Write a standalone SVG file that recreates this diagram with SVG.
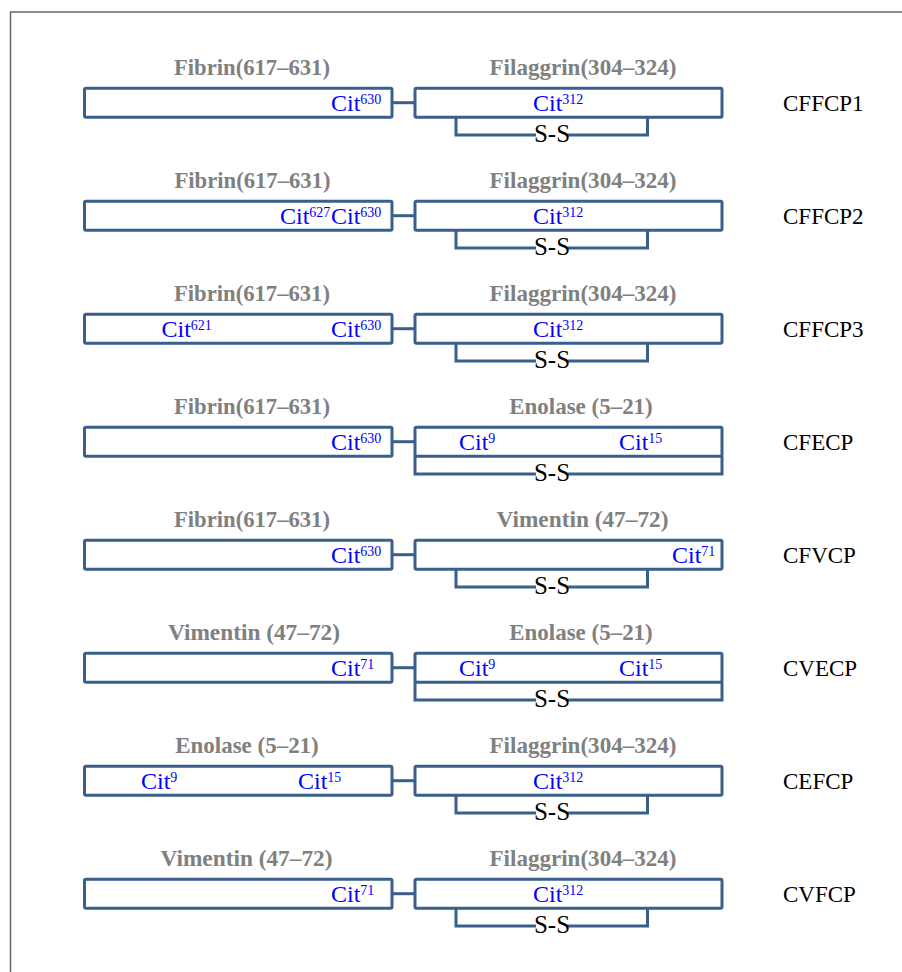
<svg xmlns="http://www.w3.org/2000/svg" width="902" height="972" viewBox="0 0 902 972">
<style>
.box{fill:#fff;stroke:#3a5f8b;stroke-width:3}
.br{fill:none;stroke:#3a5f8b;stroke-width:3}
.ln{stroke:#3a5f8b;stroke-width:3}
.ttl{font-family:"Liberation Serif",serif;font-weight:bold;font-size:23px;fill:#808080;text-anchor:middle}
.cit{font-family:"Liberation Serif",serif;font-size:24px;fill:#0000ff}
.sup{font-size:14px}
.ss{font-family:"Liberation Serif",serif;font-size:25px;fill:#000;text-anchor:middle}
.lbl{font-family:"Liberation Serif",serif;font-size:23px;fill:#000}
</style>
<rect width="902" height="972" fill="#fff"/>
<path d="M10.5,972 V12 H902" fill="none" stroke="#666" stroke-width="1.5"/>

<!-- Row 1 -->
<g id="r1-left" transform="translate(0,0)">
<text class="ttl" x="252" y="75" textLength="156" lengthAdjust="spacingAndGlyphs">Fibrin(617–631)</text>
<rect class="box" x="84.5" y="88.2" width="307.5" height="29" rx="1.5"/>
<text class="cit" x="331" y="110.5">Cit<tspan class="sup" dy="-7">630</tspan></text>
</g>
<g id="r1-right" transform="translate(0,0)">
<text class="ttl" x="583" y="75" textLength="187" lengthAdjust="spacingAndGlyphs">Filaggrin(304–324)</text>
<rect class="box" x="415" y="88.2" width="307" height="29" rx="1.5"/>
<text class="cit" x="533" y="110.5">Cit<tspan class="sup" dy="-7">312</tspan></text>
<path class="br" d="M456,117.2 V135 H536 M568,135 H647.5 V117.2"/>
<text class="ss" x="552" y="142">S-S</text>
</g>
<g id="r1-label"><text class="lbl" x="783" y="110.5">CFFCP1</text></g>

<!-- Row 2 -->
<g id="r2-left" transform="translate(0,113)">
<text class="ttl" x="252.5" y="75" textLength="156" lengthAdjust="spacingAndGlyphs">Fibrin(617–631)</text>
<rect class="box" x="84.5" y="88.2" width="307.5" height="29" rx="1.5"/>
<text class="cit" x="280" y="110.5">Cit<tspan class="sup" dy="-7">627</tspan></text>
<text class="cit" x="331" y="110.5">Cit<tspan class="sup" dy="-7">630</tspan></text>
</g>
<g id="r2-right" transform="translate(0,113)">
<text class="ttl" x="583" y="75" textLength="187" lengthAdjust="spacingAndGlyphs">Filaggrin(304–324)</text>
<rect class="box" x="415" y="88.2" width="307" height="29" rx="1.5"/>
<text class="cit" x="533" y="110.5">Cit<tspan class="sup" dy="-7">312</tspan></text>
<path class="br" d="M456,117.2 V135 H536 M568,135 H647.5 V117.2"/>
<text class="ss" x="552" y="142">S-S</text>
</g>
<g id="r2-label" transform="translate(0,113)"><text class="lbl" x="783" y="110.5">CFFCP2</text></g>

<!-- Row 3 -->
<g id="r3-left" transform="translate(0,226)">
<text class="ttl" x="252" y="75" textLength="156" lengthAdjust="spacingAndGlyphs">Fibrin(617–631)</text>
<rect class="box" x="84.5" y="88.2" width="307.5" height="29" rx="1.5"/>
<text class="cit" x="161.5" y="110.5">Cit<tspan class="sup" dy="-7">621</tspan></text>
<text class="cit" x="331" y="110.5">Cit<tspan class="sup" dy="-7">630</tspan></text>
</g>
<g id="r3-right" transform="translate(0,226)">
<text class="ttl" x="583" y="75" textLength="187" lengthAdjust="spacingAndGlyphs">Filaggrin(304–324)</text>
<rect class="box" x="415" y="88.2" width="307" height="29" rx="1.5"/>
<text class="cit" x="533" y="110.5">Cit<tspan class="sup" dy="-7">312</tspan></text>
<path class="br" d="M456,117.2 V135 H536 M568,135 H647.5 V117.2"/>
<text class="ss" x="552" y="142">S-S</text>
</g>
<g id="r3-label" transform="translate(0,226)"><text class="lbl" x="783" y="110.5">CFFCP3</text></g>

<!-- Row 4 -->
<g id="r4-left" transform="translate(0,339)">
<text class="ttl" x="252" y="75" textLength="156" lengthAdjust="spacingAndGlyphs">Fibrin(617–631)</text>
<rect class="box" x="84.5" y="88.2" width="307.5" height="29" rx="1.5"/>
<text class="cit" x="331" y="110.5">Cit<tspan class="sup" dy="-7">630</tspan></text>
</g>
<g id="r4-right" transform="translate(0,339)">
<text class="ttl" x="581" y="75" textLength="143.5" lengthAdjust="spacingAndGlyphs">Enolase (5–21)</text>
<rect class="box" x="415" y="88.2" width="307" height="29" rx="1.5"/>
<text class="cit" x="459" y="110.5">Cit<tspan class="sup" dy="-7">9</tspan></text>
<text class="cit" x="619" y="110.5">Cit<tspan class="sup" dy="-7">15</tspan></text>
<path class="br" d="M415,117.2 V135 H536 M568,135 H722 V117.2"/>
<text class="ss" x="552" y="142">S-S</text>
</g>
<g id="r4-label" transform="translate(0,339)"><text class="lbl" x="783" y="110.5">CFECP</text></g>

<!-- Row 5 -->
<g id="r5-left" transform="translate(0,452)">
<text class="ttl" x="252" y="75" textLength="156" lengthAdjust="spacingAndGlyphs">Fibrin(617–631)</text>
<rect class="box" x="84.5" y="88.2" width="307.5" height="29" rx="1.5"/>
<text class="cit" x="331" y="110.5">Cit<tspan class="sup" dy="-7">630</tspan></text>
</g>
<g id="r5-right" transform="translate(0,452)">
<text class="ttl" x="582.5" y="75" textLength="172" lengthAdjust="spacingAndGlyphs">Vimentin (47–72)</text>
<rect class="box" x="415" y="88.2" width="307" height="29" rx="1.5"/>
<text class="cit" x="672" y="110.5">Cit<tspan class="sup" dy="-7">71</tspan></text>
<path class="br" d="M456,117.2 V135 H536 M568,135 H647.5 V117.2"/>
<text class="ss" x="552" y="142">S-S</text>
</g>
<g id="r5-label" transform="translate(0,452)"><text class="lbl" x="783" y="110.5">CFVCP</text></g>

<!-- Row 6 -->
<g id="r6-left" transform="translate(0,565)">
<text class="ttl" x="254" y="75" textLength="172" lengthAdjust="spacingAndGlyphs">Vimentin (47–72)</text>
<rect class="box" x="84.5" y="88.2" width="307.5" height="29" rx="1.5"/>
<text class="cit" x="331" y="110.5">Cit<tspan class="sup" dy="-7">71</tspan></text>
</g>
<g id="r6-right" transform="translate(0,565)">
<text class="ttl" x="581" y="75" textLength="143.5" lengthAdjust="spacingAndGlyphs">Enolase (5–21)</text>
<rect class="box" x="415" y="88.2" width="307" height="29" rx="1.5"/>
<text class="cit" x="459" y="110.5">Cit<tspan class="sup" dy="-7">9</tspan></text>
<text class="cit" x="619" y="110.5">Cit<tspan class="sup" dy="-7">15</tspan></text>
<path class="br" d="M415,117.2 V135 H536 M568,135 H722 V117.2"/>
<text class="ss" x="552" y="142">S-S</text>
</g>
<g id="r6-label" transform="translate(0,565)"><text class="lbl" x="783" y="110.5">CVECP</text></g>

<!-- Row 7 -->
<g id="r7-left" transform="translate(0,678)">
<text class="ttl" x="247" y="75" textLength="143.5" lengthAdjust="spacingAndGlyphs">Enolase (5–21)</text>
<rect class="box" x="84.5" y="88.2" width="307.5" height="29" rx="1.5"/>
<text class="cit" x="141" y="110.5">Cit<tspan class="sup" dy="-7">9</tspan></text>
<text class="cit" x="298" y="110.5">Cit<tspan class="sup" dy="-7">15</tspan></text>
</g>
<g id="r7-right" transform="translate(0,678)">
<text class="ttl" x="583" y="75" textLength="187" lengthAdjust="spacingAndGlyphs">Filaggrin(304–324)</text>
<rect class="box" x="415" y="88.2" width="307" height="29" rx="1.5"/>
<text class="cit" x="533" y="110.5">Cit<tspan class="sup" dy="-7">312</tspan></text>
<path class="br" d="M456,117.2 V135 H536 M568,135 H647.5 V117.2"/>
<text class="ss" x="552" y="142">S-S</text>
</g>
<g id="r7-label" transform="translate(0,678)"><text class="lbl" x="783" y="110.5">CEFCP</text></g>

<!-- Row 8 -->
<g id="r8-left" transform="translate(0,791)">
<text class="ttl" x="246.5" y="75" textLength="172" lengthAdjust="spacingAndGlyphs">Vimentin (47–72)</text>
<rect class="box" x="84.5" y="88.2" width="307.5" height="29" rx="1.5"/>
<text class="cit" x="331" y="110.5">Cit<tspan class="sup" dy="-7">71</tspan></text>
</g>
<g id="r8-right" transform="translate(0,791)">
<text class="ttl" x="583" y="75" textLength="187" lengthAdjust="spacingAndGlyphs">Filaggrin(304–324)</text>
<rect class="box" x="415" y="88.2" width="307" height="29" rx="1.5"/>
<text class="cit" x="533" y="110.5">Cit<tspan class="sup" dy="-7">312</tspan></text>
<path class="br" d="M456,117.2 V135 H536 M568,135 H647.5 V117.2"/>
<text class="ss" x="552" y="142">S-S</text>
</g>
<g id="r8-label" transform="translate(0,791)"><text class="lbl" x="783" y="110.5">CVFCP</text></g>

<g id="connectors">
<line class="ln" x1="393" y1="102.7" x2="414" y2="102.7"/>
<line class="ln" x1="393" y1="215.7" x2="414" y2="215.7"/>
<line class="ln" x1="393" y1="328.7" x2="414" y2="328.7"/>
<line class="ln" x1="393" y1="441.7" x2="414" y2="441.7"/>
<line class="ln" x1="393" y1="554.7" x2="414" y2="554.7"/>
<line class="ln" x1="393" y1="667.7" x2="414" y2="667.7"/>
<line class="ln" x1="393" y1="780.7" x2="414" y2="780.7"/>
<line class="ln" x1="393" y1="893.7" x2="414" y2="893.7"/>
</g>
</svg>
